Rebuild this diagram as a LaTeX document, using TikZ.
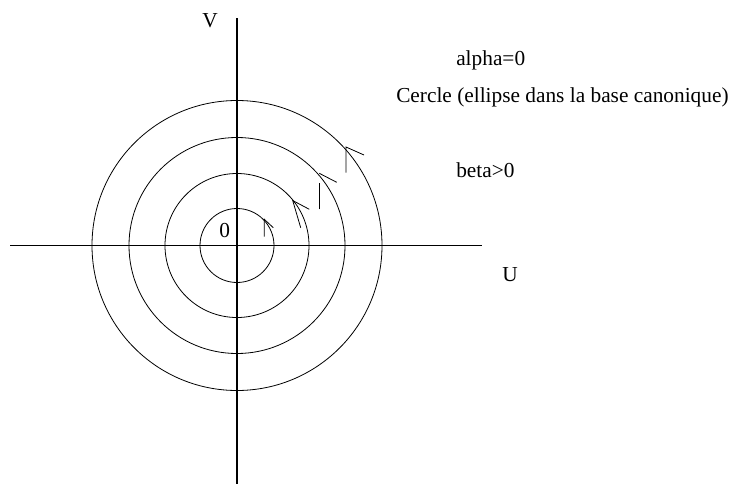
\documentclass[tikz,border=0pt]{standalone}
\usepackage{fontspec}
\setmainfont{Liberation Serif}
\usetikzlibrary{positioning}

\begin{document}
\begin{tikzpicture}[x=0.75pt,y=-0.75pt]
  \tikzset{
    axe/.style={line width=1.1pt},
    cercle/.style={line width=0.6pt},
    fleche/.style={line width=0.6pt},
    lbl/.style={font=\fontsize{16}{19}\selectfont, inner sep=0pt, anchor=base west}
  }
  \useasboundingbox (0,0) rectangle (733,486);

  % - Axes ---
  \coordinate (O) at (237,245.5);
  \coordinate (uG) at (10,245.5);
  \coordinate (uD) at (482,245.5);
  \coordinate (vH) at (237,18);
  \coordinate (vB) at (237,484);
  \draw[axe] (uG) -- (uD);
  \draw[axe] (vH) -- (vB);

  % - Cercles ---
  \foreach \r in {37,72,108,145}
    \draw[cercle] (O) circle[radius=\r];

  % - Fleches (sens de parcours) ---
  \draw[fleche] (264.3,236.7) -- (264.3,219.3) -- (273.3,227.7);
  \draw[fleche] (300.7,227.7) -- (292.7,200.5) -- (309.3,209.3);
  \draw[fleche] (319.3,209.3) -- (319.3,182.7);
  \draw[fleche] (319.3,173.3) -- (336.7,182.3);
  \draw[fleche] (346,172.7) -- (346,147) -- (364,155);

  % - Textes ---
  \node[lbl] (V) at (202,27) {V};
  \node[lbl] (U) at (502,281.7) {U};
  \node[lbl] (zero) at (219,237) {0};
  \node[lbl] (alpha) at (456,65) {alpha=0};
  \node[lbl] (cercle) at (396,102) {Cercle (ellipse dans la base canonique)};
  \node[lbl] (beta) at (456,177) {beta>0};

\end{tikzpicture}
\end{document}
